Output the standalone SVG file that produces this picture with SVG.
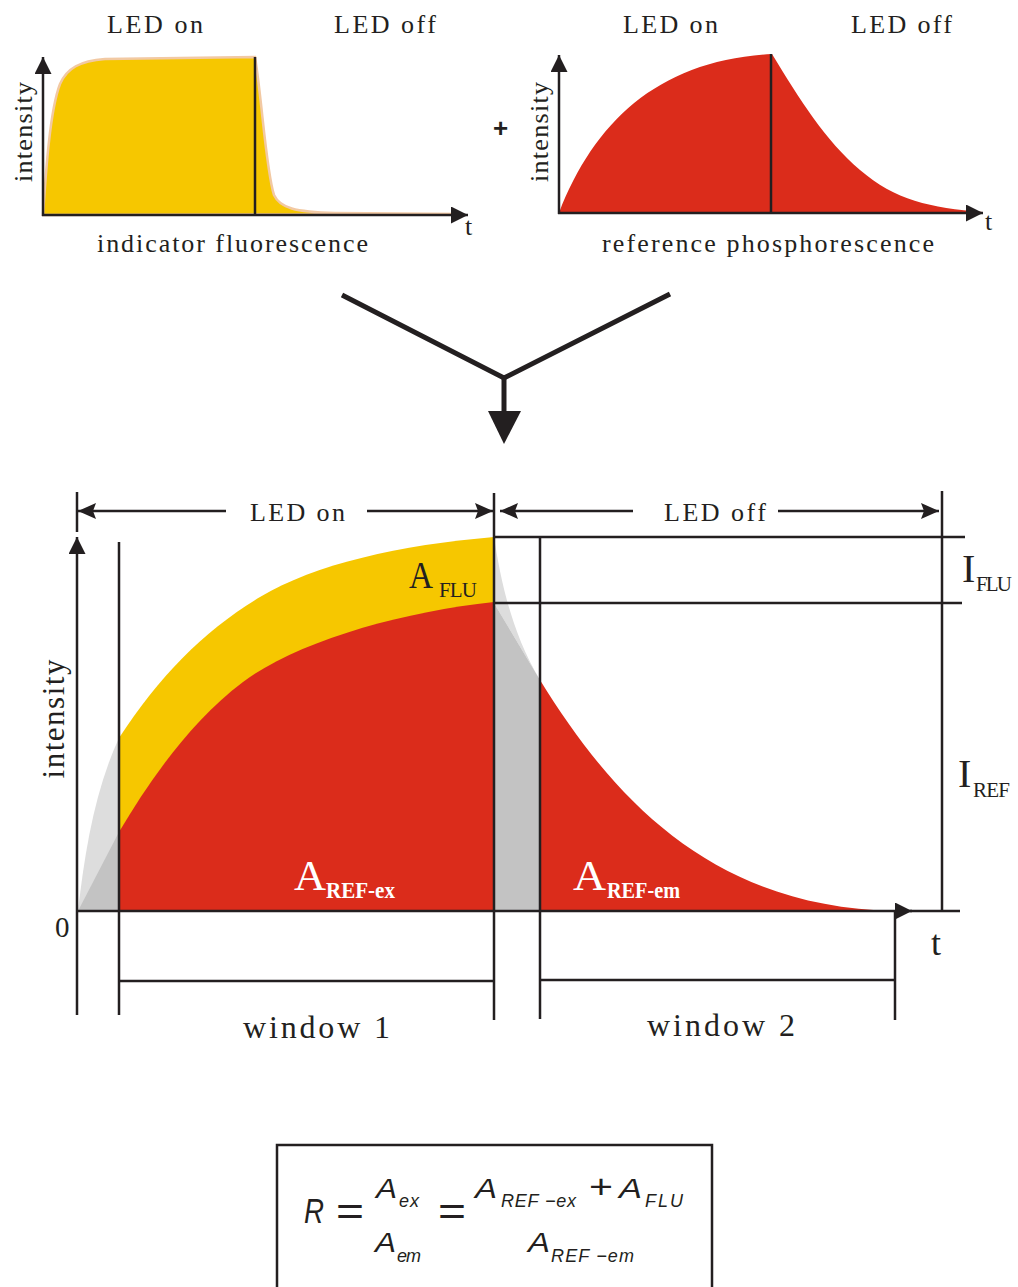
<svg xmlns="http://www.w3.org/2000/svg" width="1018" height="1287" viewBox="0 0 1018 1287">
<style>
.ln{stroke:#231f20;stroke-width:2.5;fill:none}
.tx{font-family:"Liberation Serif","Times New Roman",serif;fill:#231f20}
.fx{font-family:"Liberation Sans",Arial,sans-serif;font-style:italic;fill:#231f20}
.yel{fill:#f6c700}
.red{fill:#db2c1b}
.lg{fill:#dddddd}
.dg{fill:#c3c3c3}
</style>
<defs>
<marker id="ax" viewBox="0 0 17 17" refX="17" refY="8.5" markerWidth="17" markerHeight="17" markerUnits="userSpaceOnUse" orient="auto-start-reverse"><path d="M0,0 L17,8.5 L0,17 Z" fill="#231f20"/></marker>
<marker id="dim" viewBox="0 0 18 16" refX="18" refY="8" markerWidth="18" markerHeight="16" markerUnits="userSpaceOnUse" orient="auto-start-reverse"><path d="M0,0 L18,8 L0,16 L3,8 Z" fill="#231f20"/></marker>
</defs>
<rect width="1018" height="1287" fill="#ffffff"/>

<g id="chart-indicator">
<path class="yel" d="M43,215 C46,170 50,110 60,84 C67,68 80,61 105,59 L255,57 C262,100 266,170 274,195 C280,208 295,212 335,213 L462,214 L43,215 Z" stroke="#f2c9a3" stroke-width="2.5"/>
<line class="ln" x1="255" y1="57" x2="255" y2="215"/>
<line class="ln" x1="43" y1="216" x2="43" y2="57" marker-end="url(#ax)"/>
<line class="ln" x1="42" y1="215" x2="468" y2="215" marker-end="url(#ax)"/>
<text class="tx" x="107" y="33" font-size="26" textLength="96" lengthAdjust="spacing">LED on</text>
<text class="tx" x="334" y="33" font-size="26" textLength="102" lengthAdjust="spacing">LED off</text>
<text class="tx" x="97" y="252" font-size="26" textLength="271" lengthAdjust="spacing">indicator fluorescence</text>
<text class="tx" x="465" y="235" font-size="26">t</text>
<text class="tx" font-size="26" text-anchor="middle" transform="translate(32,132) rotate(-90)" textLength="100" lengthAdjust="spacing">intensity</text>
</g>

<g id="chart-reference">
<path class="red" d="M559,213 C595,120 660,60 772,54 C800,100 825,140 860,170 S930,208 983,212 L983,213 L559,213 Z"/>
<line class="ln" x1="771" y1="54" x2="771" y2="213"/>
<line class="ln" x1="559" y1="214" x2="559" y2="55" marker-end="url(#ax)"/>
<line class="ln" x1="558" y1="213" x2="983" y2="213" marker-end="url(#ax)"/>
<text x="493" y="137" font-family="Liberation Sans, Arial, sans-serif" font-weight="bold" font-size="26" fill="#231f20">+</text>
<text class="tx" x="623" y="33" font-size="26" textLength="95" lengthAdjust="spacing">LED on</text>
<text class="tx" x="851" y="33" font-size="26" textLength="101" lengthAdjust="spacing">LED off</text>
<text class="tx" x="602" y="252" font-size="26" textLength="332" lengthAdjust="spacing">reference phosphorescence</text>
<text class="tx" x="985" y="230" font-size="26">t</text>
<text class="tx" font-size="26" text-anchor="middle" transform="translate(548,132) rotate(-90)" textLength="100" lengthAdjust="spacing">intensity</text>
</g>

<g id="connectors">
<polyline points="342,295 504,378 670,294" fill="none" stroke="#231f20" stroke-width="5" stroke-linejoin="miter"/>
<line x1="504" y1="378" x2="504" y2="412" stroke="#231f20" stroke-width="5"/>
<polygon points="488,411 521,411 504,444" fill="#231f20"/>
</g>

<g id="chart-combined">
<path class="lg" d="M78,911 C85,850 95,790 119,738 L119,911 Z"/>
<path class="dg" d="M78,911 L119,832 L119,911 Z"/>
<path class="yel" d="M119,738 C160,675 205,630 260,597 S400,545 494,537 L494,911 L119,911 Z"/>
<path class="red" d="M119,832 C150,780 190,722 243,682 S400,612 494,602 L494,911 L119,911 Z"/>
<path class="lg" d="M494,537 C500,575 510,630 540,680 L494,603 Z"/>
<path class="dg" d="M494,603 L540,680 L540,911 L494,911 Z"/>
<path class="red" d="M540,680 C620,810 720,907 895,911 L540,911 Z"/>

<line class="ln" x1="77" y1="1015" x2="77" y2="537" marker-end="url(#ax)"/>
<line class="ln" x1="77" y1="492" x2="77" y2="532"/>
<line class="ln" x1="119" y1="542" x2="119" y2="1015"/>
<line class="ln" x1="494" y1="493" x2="494" y2="1020"/>
<line class="ln" x1="540" y1="537" x2="540" y2="1019"/>
<line class="ln" x1="942" y1="491" x2="942" y2="911"/>
<line class="ln" x1="895" y1="911" x2="895" y2="1020"/>
<line class="ln" x1="494" y1="537" x2="965" y2="537"/>
<line class="ln" x1="494" y1="603" x2="962" y2="603"/>
<line class="ln" x1="76" y1="911" x2="912" y2="911" marker-end="url(#ax)"/>
<line class="ln" x1="910" y1="911" x2="960" y2="911"/>
<line class="ln" x1="119" y1="981" x2="494" y2="981"/>
<line class="ln" x1="540" y1="980" x2="895" y2="980"/>

<line class="ln" x1="78" y1="511" x2="226" y2="511" marker-start="url(#dim)"/>
<line class="ln" x1="367" y1="511" x2="493" y2="511" marker-end="url(#dim)"/>
<line class="ln" x1="500" y1="511" x2="633" y2="511" marker-start="url(#dim)"/>
<line class="ln" x1="778" y1="511" x2="939" y2="511" marker-end="url(#dim)"/>

<text class="tx" x="250" y="521" font-size="26" textLength="95" lengthAdjust="spacing">LED on</text>
<text class="tx" x="664" y="521" font-size="26" textLength="102" lengthAdjust="spacing">LED off</text>
<text class="tx" font-size="31" text-anchor="middle" transform="translate(64,719) rotate(-90)" textLength="119" lengthAdjust="spacing">intensity</text>
<text class="tx" x="55" y="937" font-size="29">0</text>
<text class="tx" x="931" y="955" font-size="36">t</text>
<text class="tx" x="243" y="1038" font-size="32" textLength="147" lengthAdjust="spacing">window 1</text>
<text class="tx" x="647" y="1036" font-size="32" textLength="148" lengthAdjust="spacing">window 2</text>

<text class="tx" x="409" y="588" font-size="38" textLength="24" lengthAdjust="spacingAndGlyphs">A</text>
<text class="tx" x="439" y="597" font-size="21" textLength="38" lengthAdjust="spacing">FLU</text>
<text class="tx" x="294" y="890" font-size="42" style="fill:#ffffff" textLength="32" lengthAdjust="spacingAndGlyphs">A</text>
<text class="tx" x="326" y="898" font-size="24" font-weight="bold" style="fill:#ffffff" textLength="69" lengthAdjust="spacingAndGlyphs">REF-ex</text>
<text class="tx" x="573" y="890" font-size="42" style="fill:#ffffff" textLength="33" lengthAdjust="spacingAndGlyphs">A</text>
<text class="tx" x="607" y="898" font-size="24" font-weight="bold" style="fill:#ffffff" textLength="73" lengthAdjust="spacingAndGlyphs">REF-em</text>

<text class="tx" x="962" y="582" font-size="40">I</text>
<text class="tx" x="976" y="591" font-size="21" textLength="36" lengthAdjust="spacing">FLU</text>
<text class="tx" x="958" y="787" font-size="40">I</text>
<text class="tx" x="973" y="797" font-size="21" textLength="37" lengthAdjust="spacing">REF</text>
</g>

<g id="formula">
<rect x="277" y="1145" width="435" height="160" fill="none" stroke="#231f20" stroke-width="2.5"/>
<text class="fx" x="304" y="1223" font-size="35" textLength="20" lengthAdjust="spacingAndGlyphs">R</text>
<text class="fx" x="336" y="1225" font-size="40" style="font-style:normal" textLength="28" lengthAdjust="spacingAndGlyphs">=</text>
<text class="fx" x="376" y="1198" font-size="28" textLength="21" lengthAdjust="spacingAndGlyphs">A</text>
<text class="fx" x="399" y="1207" font-size="18" textLength="20" lengthAdjust="spacing">ex</text>
<text class="fx" x="375" y="1252" font-size="28" textLength="21" lengthAdjust="spacingAndGlyphs">A</text>
<text class="fx" x="397" y="1262" font-size="18" textLength="24" lengthAdjust="spacing">em</text>
<text class="fx" x="438" y="1225" font-size="40" style="font-style:normal" textLength="28" lengthAdjust="spacingAndGlyphs">=</text>
<text class="fx" x="475" y="1198" font-size="28" textLength="22" lengthAdjust="spacingAndGlyphs">A</text>
<text class="fx" x="501" y="1207" font-size="18" textLength="75" lengthAdjust="spacing">REF −ex</text>
<text class="fx" x="589" y="1198" font-size="34" style="font-style:normal" textLength="24" lengthAdjust="spacingAndGlyphs">+</text>
<text class="fx" x="619" y="1198" font-size="28" textLength="23" lengthAdjust="spacingAndGlyphs">A</text>
<text class="fx" x="645" y="1207" font-size="18" textLength="38" lengthAdjust="spacing">FLU</text>
<text class="fx" x="528" y="1252" font-size="28" textLength="22" lengthAdjust="spacingAndGlyphs">A</text>
<text class="fx" x="551" y="1262" font-size="18" textLength="83" lengthAdjust="spacing">REF −em</text>
</g>
</svg>
